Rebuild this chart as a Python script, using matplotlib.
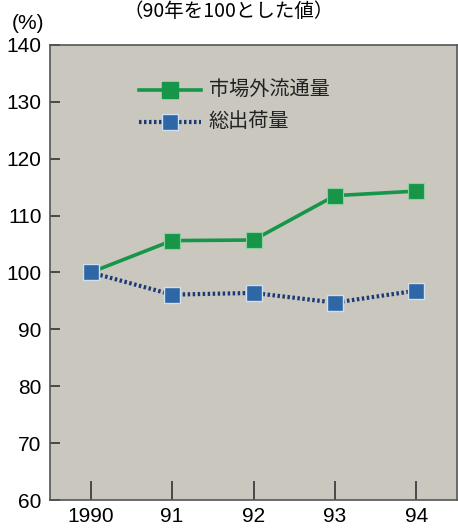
import matplotlib
matplotlib.use("Agg")
import matplotlib.pyplot as plt

plt.rcParams["font.family"] = ["Liberation Sans", "Noto Sans CJK JP", "DejaVu Sans"]

years = ["1990", "91", "92", "93", "94"]
market_out = [100.0, 105.6, 105.7, 113.5, 114.3]   # 市場外流通量
total_ship = [100.0, 96.1, 96.4, 94.7, 96.8]       # 総出荷量
yticks = [60, 70, 80, 90, 100, 110, 120, 130, 140]

green = "#17964a"
blue = "#2e66a6"
navy = "#1d3a78"

fig = plt.figure(figsize=(4.58, 5.28), dpi=100)
ax = fig.add_axes([0.109, 0.053, 0.889, 0.862])
ax.set_facecolor("#c9c7be")

x = list(range(len(years)))
ax.plot(x, market_out, color=green, lw=2.6, marker="s", ms=12,
        mfc=green, mec="#8fcf9f", mew=0.8, zorder=3)
ax.plot(x, total_ship, color=navy, lw=3, ls=(0, (0.6, 0.6)), zorder=2)
ax.plot(x, total_ship, ls="none", marker="s", ms=12,
        mfc=blue, mec="#cfe0f0", mew=1.0, zorder=4)

# legend drawn by hand in data coords
ax.plot([0.6, 1.35], [132, 132], color=green, lw=2.6)
ax.plot([0.97], [132], marker="s", ms=12, color=green)
ax.plot([0.6, 1.35], [126.5, 126.5], color=navy, lw=3, ls=(0, (0.6, 0.6)))
ax.plot([0.97], [126.5], marker="s", ms=12, mfc=blue, mec="#cfe0f0")
ax.text(1.45, 132, "市場外流通量", fontsize=14.5, va="center",
        family=["Noto Sans CJK JP"], color="#222222")
ax.text(1.45, 126.5, "総出荷量", fontsize=14.5, va="center",
        family=["Noto Sans CJK JP"], color="#222222")

ax.set_xlim(-0.5, 4.5)
ax.set_ylim(60, 140)
ax.set_xticks(x)
ax.set_xticklabels(years)
ax.set_yticks(yticks)
ax.tick_params(axis="x", direction="in", length=14, width=1.2,
               labelsize=15, pad=5, color="#333333")
ax.tick_params(axis="y", direction="in", length=7, width=1.2,
               labelsize=15, pad=6, color="#333333")
for s in ax.spines.values():
    s.set_color("#555555")
    s.set_linewidth(1.2)

fig.text(0.062, 0.955, "(%)", fontsize=15, ha="center", va="center")
fig.text(0.50, 0.999, "（90年を100とした値）", fontsize=14, ha="center", va="top",
         family=["Noto Sans CJK JP"])

fig.savefig("out.png", dpi=100)
